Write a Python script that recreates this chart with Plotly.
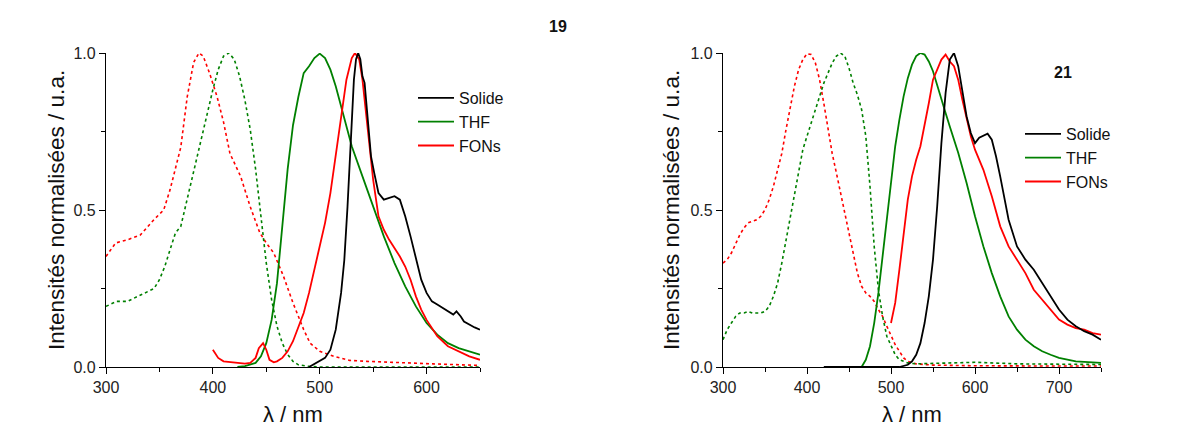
import plotly.graph_objects as go

FONT = "Liberation Sans, Arial, sans-serif"
BLACK, GREEN, RED = "#000000", "#008000", "#ff0000"

# ---------------- Compound 19 ----------------
x19_fons_abs = [300, 309, 320, 332, 345, 354, 360, 370, 376, 382, 387, 391, 397, 404, 410, 416, 426, 435, 444, 450,
                457, 466, 475, 485, 491, 500, 513, 528, 544, 575, 606, 650]
y19_fons_abs = [0.352, 0.395, 0.405, 0.42, 0.47, 0.50, 0.565, 0.70, 0.86, 0.97, 1.0, 0.99, 0.935, 0.86, 0.78, 0.68,
                0.607, 0.51, 0.427, 0.395, 0.363, 0.29, 0.204, 0.119, 0.076, 0.05, 0.034, 0.021, 0.018, 0.013, 0.01, 0.005]

x19_thf_abs = [300, 310, 320, 330, 340, 345, 350, 355, 360, 365, 370, 375, 380, 385, 390, 395, 400, 405, 410, 415,
               420, 425, 430, 435, 440, 445, 450, 455, 460, 465, 470, 475, 480, 490, 500, 650]
y19_thf_abs = [0.193, 0.209, 0.209, 0.225, 0.241, 0.25, 0.278, 0.32, 0.374, 0.427, 0.448, 0.522, 0.586, 0.66, 0.735,
               0.81, 0.883, 0.947, 0.99, 1.0, 0.98, 0.926, 0.85, 0.756, 0.63, 0.48, 0.331, 0.214, 0.13, 0.076, 0.04,
               0.018, 0.007, 0.002, 0.0, 0.0]

x19_thf_em = [423, 430, 440, 445, 450, 455, 460, 465, 470, 475, 480, 485, 490, 495, 500, 505, 510, 515, 520, 525, 530,
              540, 550, 560, 570, 580, 590, 600, 610, 620, 630, 640, 650]
y19_thf_em = [0.0, 0.003, 0.013, 0.034, 0.076, 0.15, 0.267, 0.437, 0.63, 0.77, 0.86, 0.936, 0.958, 0.984, 0.998, 0.984,
              0.947, 0.894, 0.83, 0.766, 0.703, 0.607, 0.512, 0.416, 0.331, 0.257, 0.193, 0.14, 0.103, 0.076, 0.06,
              0.05, 0.039]

x19_fons_em = [400, 405, 410, 420, 430, 435, 440, 443, 447, 450, 453, 457, 460, 465, 470, 475, 480, 485, 490, 495, 500,
               505, 510, 515, 520, 525, 530, 533, 537, 540, 545, 550, 555, 560, 565, 570, 575, 580, 585, 590, 595, 600,
               610, 620, 630, 640, 650]
y19_fons_em = [0.055, 0.029, 0.018, 0.015, 0.011, 0.013, 0.029, 0.06, 0.076, 0.055, 0.023, 0.015, 0.018, 0.029, 0.05,
               0.082, 0.124, 0.172, 0.236, 0.31, 0.384, 0.459, 0.554, 0.671, 0.788, 0.915, 0.984, 1.0, 0.979, 0.915,
               0.756, 0.597, 0.48, 0.437, 0.405, 0.379, 0.352, 0.32, 0.278, 0.225, 0.183, 0.15, 0.098, 0.066, 0.05,
               0.034, 0.023]

x19_sol_em = [490, 500, 505, 510, 515, 520, 523, 526, 529, 532, 534, 536, 538, 540, 542, 545, 548, 551, 555, 560, 565,
              570, 575, 580, 585, 590, 595, 600, 605, 610, 615, 620, 625, 628, 632, 635, 640, 645, 650]
y19_sol_em = [0.0, 0.018, 0.029, 0.055, 0.119, 0.236, 0.34, 0.51, 0.72, 0.915, 0.98, 1.0, 0.98, 0.926, 0.905, 0.788,
              0.671, 0.618, 0.554, 0.533, 0.538, 0.544, 0.533, 0.48, 0.416, 0.342, 0.278, 0.236, 0.209, 0.199, 0.188,
              0.177, 0.167, 0.177, 0.161, 0.145, 0.135, 0.126, 0.119]

# ---------------- Compound 21 ----------------
x21_fons_abs = [300, 305, 310, 315, 320, 325, 330, 335, 340, 345, 350, 355, 360, 365, 370, 375, 380, 385, 390, 395,
                400, 405, 410, 415, 420, 425, 430, 435, 440, 445, 450, 455, 460, 465, 470, 475, 480, 485, 490, 495,
                500, 505, 510, 515, 520, 530, 550, 600, 700, 750]
y21_fons_abs = [0.331, 0.342, 0.363, 0.395, 0.421, 0.443, 0.459, 0.464, 0.469, 0.48, 0.501, 0.533, 0.575, 0.628, 0.68,
                0.756, 0.83, 0.894, 0.947, 0.979, 0.998, 0.995, 0.968, 0.915, 0.84, 0.756, 0.68, 0.618, 0.554, 0.48,
                0.416, 0.352, 0.299, 0.257, 0.236, 0.225, 0.209, 0.183, 0.161, 0.13, 0.098, 0.071, 0.05, 0.029, 0.018,
                0.01, 0.006, 0.004, 0.003, 0.003]

x21_thf_abs = [300, 305, 310, 315, 320, 325, 330, 335, 340, 345, 350, 355, 360, 365, 370, 375, 380, 385, 390, 395, 400,
               405, 410, 415, 420, 425, 430, 435, 440, 445, 450, 455, 460, 465, 470, 475, 480, 485, 490, 495, 500, 505,
               510, 520, 530, 600, 650, 750]
y21_thf_abs = [0.087, 0.119, 0.14, 0.161, 0.172, 0.172, 0.177, 0.172, 0.172, 0.172, 0.177, 0.193, 0.225, 0.267, 0.331,
               0.405, 0.48, 0.554, 0.628, 0.692, 0.735, 0.777, 0.82, 0.862, 0.904, 0.936, 0.968, 0.99, 1.0, 0.99, 0.952,
               0.904, 0.867, 0.82, 0.735, 0.575, 0.384, 0.246, 0.161, 0.098, 0.066, 0.039, 0.023, 0.013, 0.01, 0.015,
               0.01, 0.008]

x21_thf_em = [465, 470, 475, 480, 485, 490, 495, 500, 505, 510, 515, 520, 525, 530, 535, 540, 545, 550, 555, 560, 565,
              570, 580, 590, 600, 610, 620, 630, 640, 650, 660, 670, 680, 690, 700, 720, 750]
y21_thf_em = [0.0, 0.023, 0.066, 0.14, 0.236, 0.352, 0.48, 0.597, 0.703, 0.788, 0.862, 0.92, 0.963, 0.99, 1.0, 0.995,
              0.973, 0.942, 0.9, 0.851, 0.809, 0.766, 0.682, 0.586, 0.48, 0.384, 0.299, 0.225, 0.161, 0.119, 0.087,
              0.066, 0.05, 0.039, 0.029, 0.018, 0.013]

x21_fons_em = [500, 505, 510, 515, 520, 525, 530, 535, 540, 545, 550, 555, 560, 565, 570, 575, 580, 585, 590, 595, 600,
               610, 620, 630, 640, 650, 660, 670, 680, 690, 700, 710, 720, 730, 740, 750]
y21_fons_em = [0.14, 0.204, 0.31, 0.427, 0.533, 0.607, 0.66, 0.703, 0.766, 0.84, 0.915, 0.947, 0.979, 0.995, 0.973,
               0.958, 0.915, 0.851, 0.788, 0.735, 0.692, 0.628, 0.544, 0.448, 0.384, 0.342, 0.299, 0.246, 0.214, 0.183,
               0.151, 0.135, 0.124, 0.119, 0.108, 0.103]

x21_sol_em = [420, 510, 520, 525, 530, 535, 540, 545, 550, 555, 560, 565, 570, 575, 580, 585, 590, 595, 600, 605, 610,
              615, 620, 625, 630, 635, 640, 650, 660, 670, 680, 690, 700, 710, 720, 730, 740, 750]
y21_sol_em = [0.0, 0.0, 0.007, 0.018, 0.039, 0.076, 0.14, 0.225, 0.342, 0.512, 0.713, 0.873, 0.979, 1.0, 0.958, 0.873,
              0.798, 0.745, 0.713, 0.73, 0.737, 0.743, 0.724, 0.671, 0.607, 0.533, 0.469, 0.384, 0.342, 0.31, 0.268,
              0.225, 0.183, 0.151, 0.13, 0.114, 0.103, 0.087]

legend_names = ["Solide", "THF", "FONs"]
x_ticks_19 = [300, 400, 500, 600]
x_ticks_21 = [300, 400, 500, 600, 700]
y_ticks = [0.0, 0.5, 1.0]

fig = go.Figure()

def add(x, y, color, xa, ya, name=None, legend=None, dotted=False):
    fig.add_trace(go.Scatter(
        x=x, y=y, mode="lines", xaxis=xa, yaxis=ya,
        line=dict(color=color, width=1.6 if dotted else 1.8, dash="dot" if dotted else "solid"),
        name=name if name else "", showlegend=name is not None,
        legend=legend if legend else "legend", hoverinfo="skip"))

# plot 19
add(x19_fons_abs, y19_fons_abs, RED, "x", "y", dotted=True)
add(x19_thf_abs, y19_thf_abs, GREEN, "x", "y", dotted=True)
add(x19_thf_em, y19_thf_em, GREEN, "x", "y")
add(x19_fons_em, y19_fons_em, RED, "x", "y")
add(x19_sol_em, y19_sol_em, BLACK, "x", "y")
for nm, col in zip(legend_names, [BLACK, GREEN, RED]):
    add([None], [None], col, "x", "y", name=nm, legend="legend")

# plot 21
add(x21_fons_abs, y21_fons_abs, RED, "x2", "y2", dotted=True)
add(x21_thf_abs, y21_thf_abs, GREEN, "x2", "y2", dotted=True)
add(x21_thf_em, y21_thf_em, GREEN, "x2", "y2")
add(x21_fons_em, y21_fons_em, RED, "x2", "y2")
add(x21_sol_em, y21_sol_em, BLACK, "x2", "y2")
for nm, col in zip(legend_names, [BLACK, GREEN, RED]):
    add([None], [None], col, "x2", "y2", name=nm, legend="legend2")

# page body has an 8px margin: figure is inset by 8px on each side
OFF = 8
W, H = 1184 - 2 * OFF, 434 - 2 * OFF
def fx(px): return (px - OFF) / W
def fy(py): return (H - (py - OFF)) / H

axis_common = dict(showline=True, linecolor="black", linewidth=1.2, mirror=False, showgrid=False, zeroline=False,
                   automargin=False, ticks="outside", ticklen=6, tickwidth=1.2, tickcolor="black",
                   tickfont=dict(family=FONT, size=16, color="#222"))

def ann(text, x, y, size, angle=0):
    return dict(text=text, x=fx(x), y=fy(y), xref="paper", yref="paper", showarrow=False,
                xanchor="center", yanchor="middle", textangle=angle,
                font=dict(family=FONT, size=size, color="#111"))

fig.update_layout(
    template="none",
    width=W, height=H, margin=dict(l=0, r=0, t=0, b=0, pad=0, autoexpand=False),
    paper_bgcolor="white", plot_bgcolor="white",
    font=dict(family=FONT, color="#111"),
    xaxis=dict(domain=[fx(106), fx(480)], range=[300, 650], tickvals=x_ticks_19, anchor="y",
               minor=dict(ticks="outside", ticklen=4, tickcolor="black", dtick=50, tick0=350), **axis_common),
    yaxis=dict(domain=[fy(367), fy(53)], range=[0, 1.0], tickvals=y_ticks, tickformat=".1f", anchor="x",
               minor=dict(ticks="outside", ticklen=4, tickcolor="black", dtick=0.25, tick0=0.25), **axis_common),
    xaxis2=dict(domain=[fx(723), fx(1101)], range=[300, 750], tickvals=x_ticks_21, anchor="y2",
                minor=dict(ticks="outside", ticklen=4, tickcolor="black", dtick=50, tick0=350), **axis_common),
    yaxis2=dict(domain=[fy(367), fy(53)], range=[0, 1.0], tickvals=y_ticks, tickformat=".1f", anchor="x2",
                minor=dict(ticks="outside", ticklen=4, tickcolor="black", dtick=0.25, tick0=0.25), **axis_common),
    legend=dict(x=fx(413), y=fy(81), xanchor="left", yanchor="top", bgcolor="rgba(0,0,0,0)",
                font=dict(family=FONT, size=16, color="#111"), tracegroupgap=0, itemwidth=36),
    legend2=dict(x=fx(1020), y=fy(117), xanchor="left", yanchor="top", bgcolor="rgba(0,0,0,0)",
                 font=dict(family=FONT, size=16, color="#111"), tracegroupgap=0, itemwidth=36),
    annotations=[
        ann("<b>19</b>", 558, 26, 16),
        ann("<b>21</b>", 1063, 72, 16),
        ann("Intensités normalisées / u.a.", 56, 210, 22.5, -90),
        ann("Intensités normalisées / u.a.", 671, 210, 22.5, -90),
        ann("λ / nm", 293, 414, 22),
        ann("λ / nm", 912, 414, 22),
    ],
)

fig.write_html("out.html")
